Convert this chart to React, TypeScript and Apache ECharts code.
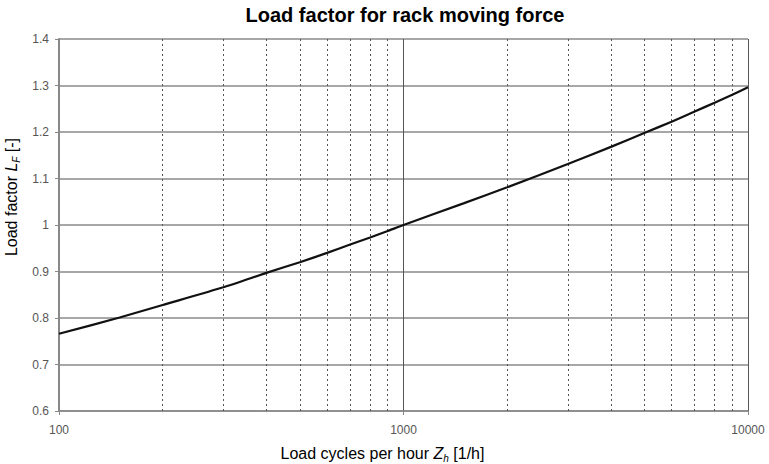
import React, { useEffect, useRef } from "react";
import * as echarts from "echarts";

const cycles = [100, 150, 200, 300, 400, 500, 600, 700, 800, 900, 1000, 1500, 2000, 3000, 4000, 5000, 6000, 7000, 8000, 9000, 10000];
const loadFactor = [0.766, 0.801, 0.828, 0.866, 0.897, 0.92, 0.94, 0.958, 0.973, 0.987, 1.0, 1.047, 1.081, 1.131, 1.168, 1.198, 1.222, 1.244, 1.263, 1.28, 1.296];
const minorLines = [200, 300, 400, 500, 600, 700, 800, 900, 2000, 3000, 4000, 5000, 6000, 7000, 8000, 9000];
const titleText = "Load factor for rack moving force";

export default function App() {
  const ref = useRef<HTMLDivElement>(null);
  useEffect(() => {
    if (!ref.current) return;
    const chart = echarts.init(ref.current, null, { renderer: "svg" });
    const font = "Liberation Sans, Arial, Helvetica, sans-serif";
    chart.setOption({
      animation: false,
      backgroundColor: "#fff",
      textStyle: { fontFamily: font },
      title: {
        text: titleText,
        left: 400,
        textAlign: "center",
        top: 0,
        textStyle: { fontSize: 20, fontWeight: "bold", color: "#000", fontFamily: font },
      },
      grid: { left: 59, right: 21, top: 39, bottom: 53, containLabel: false, outerBoundsMode: "none" },
      xAxis: {
        type: "log",
        logBase: 10,
        min: 100,
        max: 10000,
        name: "Load cycles per hour {i|Z}{sub|h} [1/h]",
        nameLocation: "middle",
        nameGap: 32,
        nameTextStyle: {
          fontSize: 16,
          color: "#000",
          fontFamily: font,
          padding: [0, 42, 0, 0],
          rich: {
            i: { fontSize: 16, fontStyle: "italic", color: "#000", fontFamily: font },
            sub: { fontSize: 10, fontStyle: "italic", color: "#000", fontFamily: font, padding: [10, 0, 0, 0] },
          },
        },
        axisLine: { show: true, lineStyle: { color: "#888", width: 1.5 } },
        axisTick: { show: true, length: 4, lineStyle: { color: "#888" } },
        axisLabel: {
          fontSize: 12,
          color: "#555",
          margin: 13,
          fontFamily: font,
          formatter: (v: number) => String(Math.round(v)),
        },
        splitLine: { show: true, lineStyle: { color: "#555", width: 1 } },
        minorTick: { show: false },
        minorSplitLine: { show: false },
      },
      yAxis: {
        type: "value",
        min: 0.6,
        max: 1.4,
        interval: 0.1,
        name: "Load factor {i|L}{sub|F} [-]",
        nameLocation: "middle",
        nameGap: 19,
        nameTextStyle: {
          fontSize: 16,
          color: "#000",
          fontFamily: font,
          padding: [0, 0, 0, 56],
          rich: {
            i: { fontSize: 16, fontStyle: "italic", color: "#000", fontFamily: font },
            sub: { fontSize: 10, fontStyle: "italic", color: "#000", fontFamily: font, padding: [10, 0, 0, 0] },
          },
        },
        axisLine: { show: true, lineStyle: { color: "#888", width: 2 } },
        axisTick: { show: true, length: 4, lineStyle: { color: "#888" } },
        axisLabel: {
          fontSize: 12,
          color: "#555",
          margin: 10,
          fontFamily: font,
          formatter: (v: number) => String(Math.round(v * 10) / 10),
        },
        splitLine: { show: true, lineStyle: { color: "#8a8a8a", width: 1.5 } },
      },
      series: [
        {
          type: "line",
          data: cycles.map((c, i) => [c, loadFactor[i]]),
          smooth: 0.2,
          showSymbol: false,
          symbol: "none",
          lineStyle: { color: "#111", width: 2.2 },
          z: 5,
          markLine: {
            silent: true,
            symbol: ["none", "none"],
            label: { show: false },
            lineStyle: { color: "#555", type: [2, 3], width: 1 },
            data: minorLines.map((x) => ({ xAxis: x })),
          },
        },
      ],
    });
    return () => chart.dispose();
  }, []);
  return <div ref={ref} style={{ width: 769, height: 464, position: "absolute", left: 0, top: 0 }} />;
}
